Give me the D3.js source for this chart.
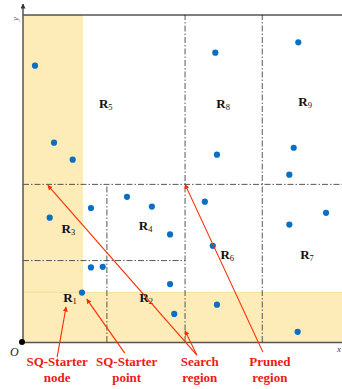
<!DOCTYPE html>
<html><head><meta charset="utf-8">
<script src="https://cdn.jsdelivr.net/npm/d3@7"></script>
<style>html,body{margin:0;padding:0;background:#fff;}svg{display:block;}</style>
</head><body>
<svg id="c" width="342" height="389"></svg>
<script>
// data (domain units 0..100)
const points = [
  [3.76,84.5],[9.72,60.95],[15.58,55.75],[60.28,88.47],[86.3,91.65],[60.8,57.3],
  [84.86,59.4],[83.48,51.16],[8.37,38.01],[21.3,40.98],[32.6,44.4],[40.4,41.4],
  [46.1,32.9],[21.3,22.8],[25.0,23.0],[46.1,17.7],[18.5,15.1],[57.0,42.9],
  [95.0,39.5],[83.5,35.9],[59.5,29.4],[60.8,11.4],[47.4,8.6],[86.1,3.1]
];
const bands = [
  {x0:0, x1:18.8, y0:0, y1:100},
  {x0:0, x1:100, y0:0, y1:15.2}
];
const vLines = [
  {x:50.8, y0:0, y1:100},
  {x:75.0, y0:0, y1:100},
  {x:26.3, y0:0, y1:48.2}
];
const hLines = [
  {y:48.2, x0:0, x1:100},
  {y:24.9, x0:0, x1:50.8}
];
const regionLabels = [
  {n:"5", x:23.8, y:71.6},{n:"8", x:60.6, y:71.6},{n:"9", x:86.3, y:72.2},
  {n:"3", x:12.1, y:33.3},{n:"4", x:36.3, y:34.3},
  {n:"6", x:61.9, y:25.4},{n:"7", x:86.9, y:25.4},
  {n:"1", x:12.6, y:12.2},{n:"2", x:36.5, y:12.1}
];
const annotations = [
  {lines:["SQ-Starter","node"], x:10.7, arrows:[{from:[10.7,-4.6], to:[13.5,10.7]}]},
  {lines:["SQ-Starter","point"], x:32.5, arrows:[{from:[31.9,-3.4], to:[20.0,13.1]}]},
  {lines:["Search","region"], x:55.4, arrows:[{from:[54.5,-4.0], to:[50.8,3.4]},{from:[54.5,-4.0], to:[7.8,47.9]}]},
  {lines:["Pruned","region"], x:77.4, arrows:[{from:[75.2,-3.1], to:[50.8,48.2]}]}
];

const svg = d3.select("#c");
const x = d3.scaleLinear().domain([0,100]).range([23,342]);
const y = d3.scaleLinear().domain([0,100]).range([342,15]);

const defs = svg.append("defs");
defs.append("marker").attr("id","ah").attr("viewBox","0 0 10 10")
  .attr("refX",9).attr("refY",5).attr("markerWidth",5).attr("markerHeight",5)
  .attr("markerUnits","userSpaceOnUse").attr("orient","auto")
  .append("path").attr("d","M0,0L10,5L0,10z").attr("fill","#ff2a00");
defs.append("marker").attr("id","ax").attr("viewBox","0 0 10 10")
  .attr("refX",9).attr("refY",5).attr("markerWidth",5).attr("markerHeight",5)
  .attr("markerUnits","userSpaceOnUse").attr("orient","auto")
  .append("path").attr("d","M0,0L10,5L0,10z").attr("fill","#333");

// bands
svg.selectAll("rect.band").data(bands).join("rect").attr("class","band")
  .attr("x",d=>x(d.x0)).attr("y",d=>y(d.y1))
  .attr("width",d=>x(d.x1)-x(d.x0)).attr("height",d=>y(d.y0)-y(d.y1))
  .attr("fill","#fdebb8");
svg.append("line").attr("x1",x(0)).attr("x2",x(100)).attr("y1",y(15.2)).attr("y2",y(15.2))
  .attr("stroke","#f8d98a").attr("stroke-width",0.8);

// dash-dot lines
const dd = "6,2,1.5,2";
svg.selectAll("line.v").data(vLines).join("line").attr("class","v")
  .attr("x1",d=>x(d.x)).attr("x2",d=>x(d.x)).attr("y1",d=>y(d.y0)).attr("y2",d=>y(d.y1))
  .attr("stroke","#444").attr("stroke-width",0.9).attr("stroke-dasharray",dd);
svg.selectAll("line.h").data(hLines).join("line").attr("class","h")
  .attr("x1",d=>x(d.x0)).attr("x2",d=>x(d.x1)).attr("y1",d=>y(d.y)).attr("y2",d=>y(d.y))
  .attr("stroke","#444").attr("stroke-width",0.9).attr("stroke-dasharray",dd);

// top border
svg.append("line").attr("x1",x(0)).attr("x2",x(100)).attr("y1",y(100)).attr("y2",y(100))
  .attr("stroke","#000").attr("stroke-width",1.2);
// axes
svg.append("line").attr("x1",x(0)).attr("x2",x(100)).attr("y1",y(0)+0.5).attr("y2",y(0)+0.5)
  .attr("stroke","#555").attr("stroke-width",1.5);
svg.append("line").attr("x1",x(0)).attr("x2",x(0)).attr("y1",y(0)).attr("y2",4)
  .attr("stroke","#555").attr("stroke-width",1.5).attr("marker-end","url(#ax)");
svg.append("circle").attr("cx",x(0)-1).attr("cy",y(0)).attr("r",3).attr("fill","#000");
svg.append("text").attr("x",10).attr("y",356).text("O")
  .attr("font-family","Liberation Serif").attr("font-style","italic").attr("font-size",12).attr("fill","#222");
svg.append("text").attr("transform","translate(18,19) rotate(-90)").attr("text-anchor","middle").text("y")
  .attr("font-family","Liberation Serif").attr("font-style","italic").attr("font-size",9).attr("fill","#666");
svg.append("text").attr("x",337).attr("y",352).text("x")
  .attr("font-family","Liberation Serif").attr("font-style","italic").attr("font-size",9).attr("fill","#444");

// points
svg.selectAll("circle.pt").data(points).join("circle").attr("class","pt")
  .attr("cx",d=>x(d[0])).attr("cy",d=>y(d[1])).attr("r",3.1).attr("fill","#0a6fc4");

// region labels
const rl = svg.selectAll("text.rl").data(regionLabels).join("text").attr("class","rl")
  .attr("x",d=>x(d.x)).attr("y",d=>y(d.y))
  .attr("font-family","Liberation Serif").attr("font-weight","bold").attr("font-size",13).attr("fill","#111");
rl.append("tspan").text("R");
rl.append("tspan").attr("font-size",8.5).attr("font-weight","normal").attr("dy",2).text(d=>d.n);

// annotations
annotations.forEach(a=>{
  a.arrows.forEach(ar=>{
    svg.append("line").attr("x1",x(ar.from[0])).attr("y1",y(ar.from[1]))
      .attr("x2",x(ar.to[0])).attr("y2",y(ar.to[1]))
      .attr("stroke","#ff2a00").attr("stroke-width",1.1).attr("marker-end","url(#ah)");
  });
  const t = svg.append("text").attr("text-anchor","middle")
    .attr("font-family","Liberation Serif").attr("font-weight","bold").attr("font-size",13).attr("fill","#f01818");
  a.lines.forEach((l,i)=>{
    t.append("tspan").attr("x",x(a.x)).attr("y",366+i*15.5).text(l);
  });
});
</script>
</body></html>
